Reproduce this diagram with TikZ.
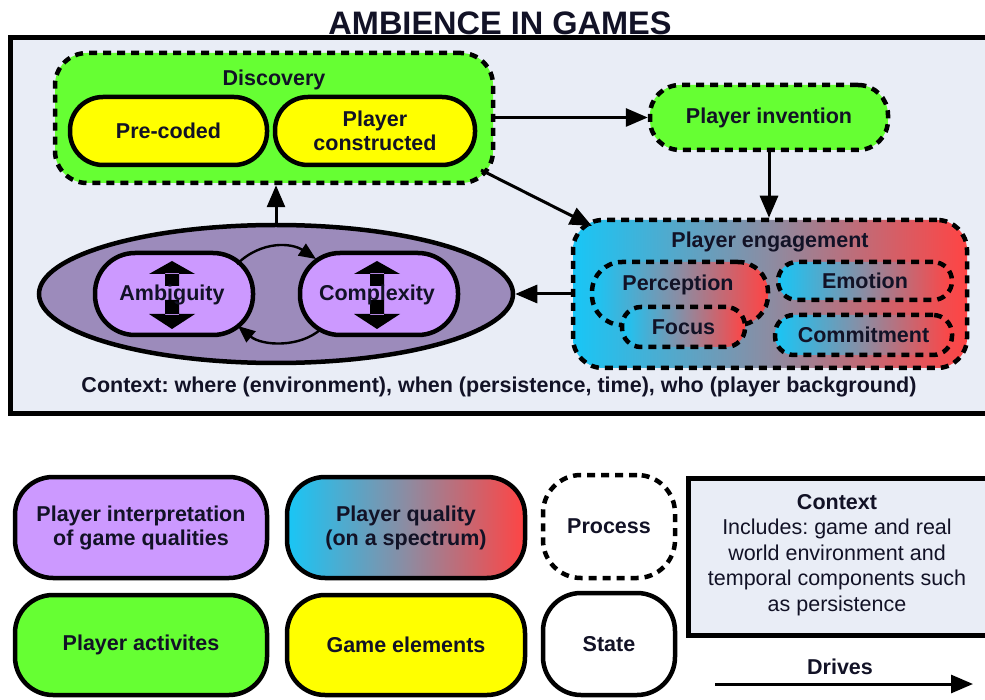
\documentclass[tikz,border=0pt]{standalone}
\usepackage{fontspec}
\setmainfont{Liberation Sans}
\usetikzlibrary{arrows.meta,shapes.geometric}
\definecolor{bgbox}{HTML}{E9EDF6}
\definecolor{pgreen}{HTML}{66FF33}
\definecolor{pyellow}{HTML}{FFFF00}
\definecolor{plilac}{HTML}{CC99FF}
\definecolor{pell}{HTML}{9C8BBB}
\definecolor{pcyan}{HTML}{18C6F6}
\definecolor{pmid}{HTML}{8C8CA2}
\definecolor{pred}{HTML}{FF4444}
\definecolor{ink}{HTML}{121226}
\tikzset{
  txt/.style={font=\fontsize{21.5}{24}\selectfont\bfseries, text=ink, align=center},
  solidbox/.style={draw=black, line width=4.5pt, rounded corners=#1, inner sep=0pt},
  solidbox/.default=32pt,
  dashbox/.style={draw=black, line width=4.5pt, dash pattern=on 8pt off 6pt, rounded corners=#1, inner sep=0pt},
  dashbox/.default=30pt,
  spectrum/.style={left color=pcyan, right color=pred, middle color=pmid},
  conn/.style={line width=3pt, -{Triangle[length=22pt,width=18pt]}},
  thinconn/.style={line width=2.4pt, -{Triangle[length=17pt,width=14pt]}},
}
\begin{document}
\frenchspacing
\begin{tikzpicture}[x=1pt,y=-1pt]
\useasboundingbox (0,0) rectangle (985,700);
\clip (0,0) rectangle (985,700);
% main context box
\draw[line width=5pt, fill=bgbox] (10,38) rectangle (1000,413);
\node[font=\fontsize{32.5}{34}\selectfont\bfseries, text=ink, anchor=base] (title) at (500,35) {AMBIENCE IN GAMES};

% Discovery
\node[dashbox=32pt, fill=pgreen, minimum width=438pt, minimum height=130pt] (disc) at (274,118) {};
\node[txt] (disclab) at (274,80) {Discovery};
\node[solidbox=33pt, fill=pyellow, minimum width=197pt, minimum height=68pt, txt] (pre) at (168.5,131) {Pre-coded};
\node[solidbox=33pt, fill=pyellow, minimum width=200pt, minimum height=68pt, txt] (pcon) at (375,131) {Player\\constructed};

% Player invention
\node[dashbox=30pt, fill=pgreen, minimum width=238pt, minimum height=65pt, txt] (inv) at (769,117.5) {Player invention};

% Player engagement
\node[dashbox=30pt, spectrum, minimum width=394pt, minimum height=148pt] (eng) at (770,294) {};
\node[txt] (englab) at (770,242) {Player engagement};
\node[dashbox=30pt, spectrum, minimum width=176pt, minimum height=63pt] (perc) at (680,293.5) {};
\node[txt] (perclab) at (678,285) {Perception};
\node[dashbox=19pt, spectrum, minimum width=123pt, minimum height=40pt, txt] (focus) at (683.5,327) {Focus};
\node[dashbox=19pt, spectrum, minimum width=174pt, minimum height=38pt, txt] (emo) at (865,281) {Emotion};
\node[dashbox=19pt, spectrum, minimum width=177pt, minimum height=40pt, txt] (comm) at (863.5,335) {Commitment};

% Ellipse of interpretations
\node[ellipse, draw=black, line width=4.5pt, fill=pell, minimum width=474pt, minimum height=138pt, inner sep=0pt] (ell) at (276,294) {};
\node[solidbox=40pt, fill=plilac, minimum width=158pt, minimum height=82pt] (amb) at (174,294) {};
\node[solidbox=40pt, fill=plilac, minimum width=158pt, minimum height=82pt] (cplx) at (379,294) {};
% thick up/down arrows
\foreach \c in {172,377}{
  \fill[black] (\c-7,286) rectangle (\c+7,273) (\c-23,274) -- (\c+23,274) -- (\c,261) -- cycle;
  \fill[black] (\c-7,300) rectangle (\c+7,315) (\c-23,314) -- (\c+23,314) -- (\c,329) -- cycle;
}
\node[txt] (amblab) at (172,295) {Ambiguity};
\node[txt] (cplxlab) at (377,295) {Complexity};

% curved arrows between ambiguity and complexity
\coordinate (a1) at (237,264);
\coordinate (c1) at (316,259);
\coordinate (c2) at (321,329);
\coordinate (a2) at (238,326);
\draw[thinconn] (a1) .. controls (262,240) and (292,243) .. (c1);
\draw[thinconn] (c2) .. controls (300,348) and (262,346) .. (a2);

% connectors
\draw[conn] (disc.east |- inv.west) -- (inv.west);
\draw[conn] (inv.south) -- (inv.south |- eng.north);
\coordinate (dse) at (481,170);
\coordinate (ennw) at (592,226);
\draw[conn] (dse) -- (ennw);
\draw[conn] (eng.west) -- (ell.east);
\draw[conn] (ell.north) -- (ell.north |- disc.south);

\node[txt] (ctx) at (499,387) {Context: where (environment), when (persistence, time), who (player background)};

% Legend
\node[solidbox=38pt, fill=plilac, minimum width=252pt, minimum height=101pt, txt] (linterp) at (141,527.5) {Player interpretation\\of game qualities};
\node[solidbox=38pt, spectrum, minimum width=238pt, minimum height=101pt, txt] (lqual) at (406,527.5) {Player quality\\(on a spectrum)};
\node[solidbox=38pt, fill=pgreen, minimum width=252pt, minimum height=100pt, txt] (lact) at (141,645) {Player activites};
\node[solidbox=38pt, fill=pyellow, minimum width=238pt, minimum height=100pt, txt] (lgame) at (406,645) {Game elements};
\node[dashbox=38pt, fill=white, minimum width=132pt, minimum height=103pt, txt] (lproc) at (609,526.5) {Process};
\node[solidbox=38pt, fill=white, minimum width=132pt, minimum height=102pt, txt] (lstate) at (609,644) {State};
\draw[line width=5pt, fill=bgbox] (688,478) rectangle (1000,635);
\node[font=\fontsize{21.5}{25.5}\selectfont, text=ink, align=center] (lctx) at (837,555)
  {\textbf{Context}\\Includes: game and real\\world environment and\\temporal components such\\as persistence};
\node[txt] (ldrives) at (840,667) {Drives};
\coordinate (dr1) at (715,684);
\coordinate (dr2) at (973,684);
\draw[conn] (dr1) -- (dr2);
\end{tikzpicture}
\end{document}
